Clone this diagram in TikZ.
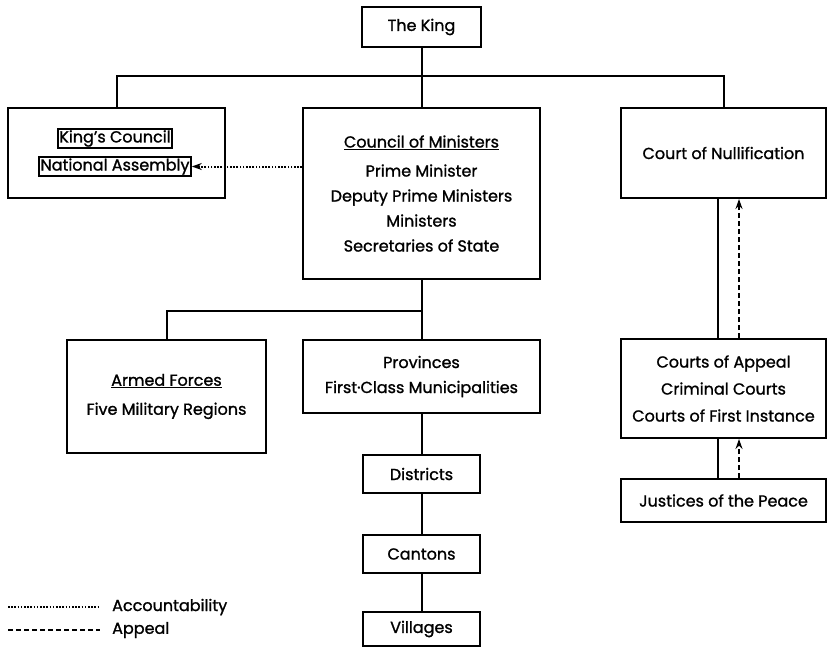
\documentclass[tikz,border=0pt]{standalone}
\usepackage{fontspec}
\setmainfont{Poppins}[UprightFeatures={FakeBold=1.2}]
\usetikzlibrary{arrows.meta}
\newcommand\myfs{\fontsize{16}{25}\selectfont}
\tikzset{
  box/.style={draw, line width=2pt, inner sep=0pt, align=center, font=\myfs},
  subbox/.style={draw, line width=1.6pt, inner sep=1.5pt, font=\myfs},
  conn/.style={line width=2pt},
  accline/.style={line width=2pt, dash pattern=on 1.6pt off 1.6pt},
  appline/.style={line width=2pt, dash pattern=on 5pt off 3pt},
  tip/.style={-{Stealth[length=10pt,width=7pt]}},
  lab/.style={anchor=west, inner sep=0pt, font=\myfs}
}
\begin{document}
\begin{tikzpicture}[x=1pt,y=-1pt]
\useasboundingbox (0,0) rectangle (832,654);
% nodes
\node[box, minimum width=119, minimum height=40] (king) at (421.5,27) {The King};
\node[box, minimum width=217, minimum height=90] (lb) at (116.5,153) {};
\node[subbox] (kc) at (115,138.5) {King's Council};
\node[subbox] (na) at (115,166.5) {National Assembly};
\node[box, minimum width=237, minimum height=171] (cm) at (421.5,193.5)
  {\underline{Council of Ministers}\\[4pt]Prime Minister\\Deputy Prime Ministers\\Ministers\\Secretaries of State};
\node[box, minimum width=205, minimum height=90] (cn) at (723.5,153) {Court of Nullification};
\node[box, minimum width=199, minimum height=113] (af) at (166.5,396.5)
  {\underline{Armed Forces}\\[4pt]Five Military Regions};
\node[box, minimum width=237, minimum height=73] (pv) at (421.5,376.5)
  {Provinces\\First·Class Municipalities};
\node[box, minimum width=117, minimum height=38] (di) at (421.5,474) {Districts};
\node[box, minimum width=117, minimum height=38] (ca) at (421.5,554) {Cantons};
\node[box, minimum width=117, minimum height=34] (vi) at (421.5,629) {Villages};
\node[box, minimum width=205, minimum height=99] (ct) at (723.5,388.5)
  {Courts of Appeal\\[2pt]Criminal Courts\\[2pt]Courts of First Instance};
\node[box, minimum width=205, minimum height=43] (jp) at (723.5,500.5) {Justices of the Peace};
% connectors
\draw[conn] (king.south) -- (cm.north);
\draw[conn] (lb.north) -- ++(0,-31) -| (cn.north);
\draw[conn] (cm.south) -- (pv.north);
\coordinate (j1) at (421.5,311);
\draw[conn] (af.north) |- (j1);
\draw[conn] (pv.south) -- (di.north);
\draw[conn] (di.south) -- (ca.north);
\draw[conn] (ca.south) -- (vi.north);
\draw[accline, tip] (cm.west |- na.east) -- (na.east);
\draw[conn] ([xshift=-5.5pt]ct.north) -- ([xshift=-5.5pt]ct.north |- cn.south);
\draw[appline, tip] ([xshift=15.5pt]ct.north) -- ([xshift=15.5pt]ct.north |- cn.south);
\draw[conn] ([xshift=-5.5pt]jp.north) -- ([xshift=-5.5pt]jp.north |- ct.south);
\draw[appline, tip] ([xshift=15.5pt]jp.north) -- ([xshift=15.5pt]jp.north |- ct.south);
% legend
\coordinate (l1a) at (8,607);
\coordinate (l1b) at (100,607);
\coordinate (l2a) at (8,630);
\coordinate (l2b) at (100,630);
\draw[accline] (l1a) -- (l1b);
\draw[appline] (l2a) -- (l2b);
\node[lab] (t1) at (112,607) {Accountability};
\node[lab] (t2) at (112,630) {Appeal};
\end{tikzpicture}
\end{document}
